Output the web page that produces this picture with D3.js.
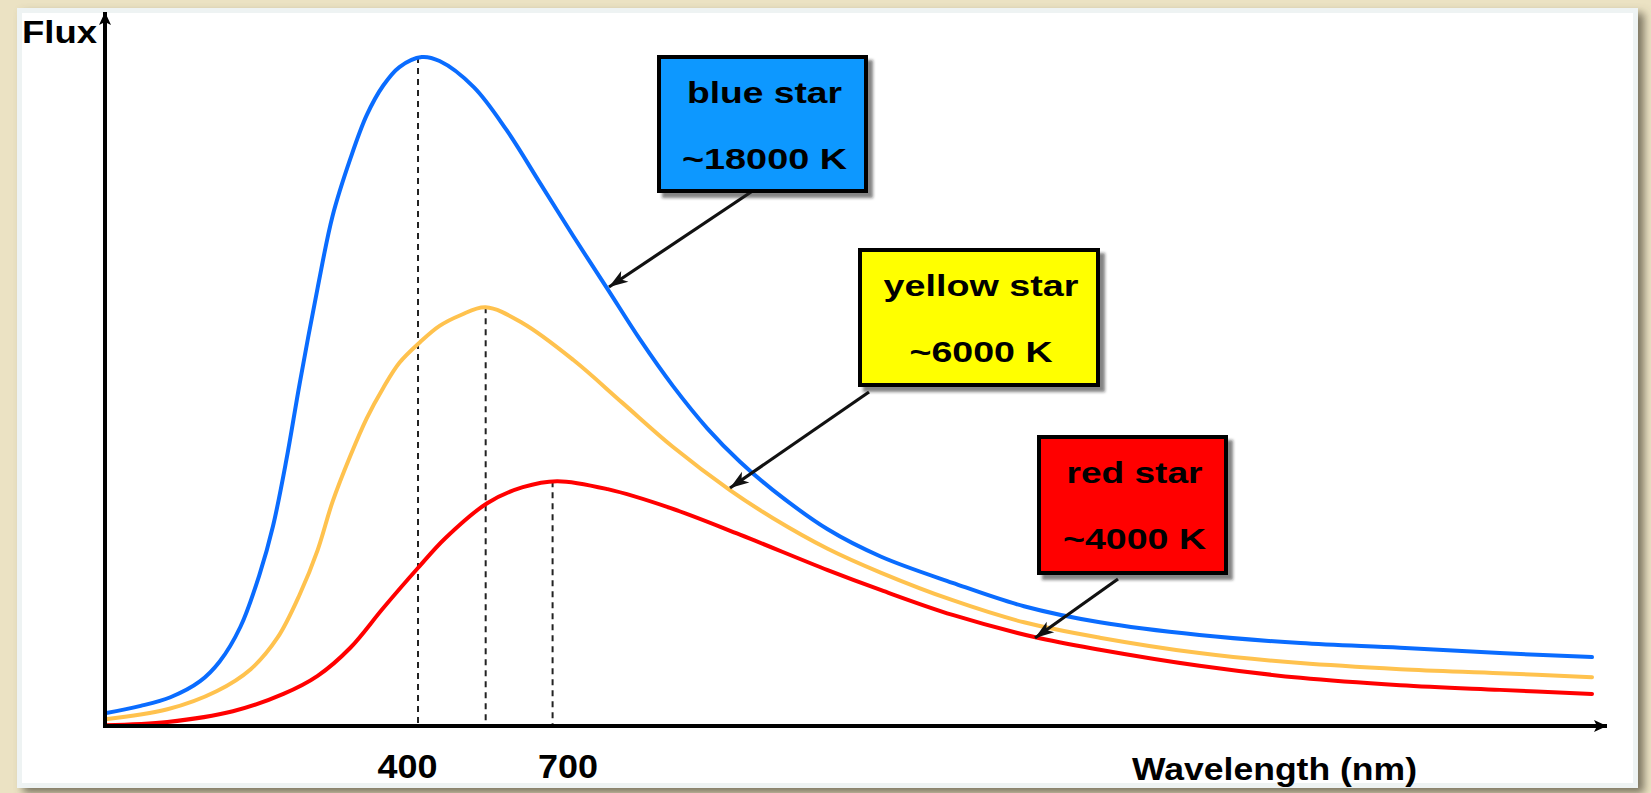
<!DOCTYPE html>
<html><head><meta charset="utf-8">
<script src="https://cdn.jsdelivr.net/npm/d3@7"></script>
<style>html,body{margin:0;padding:0;background:#ebe2c3;overflow:hidden}</style>
</head><body><svg id="chart" width="1651" height="793"></svg>
<script>
// ---- data (arbitrary wavelength units 0..100, flux units 0..100) ----
const blueWave = [0,2.4,4.4,6.4,7.7,9.1,10.4,11.3,12.2,13.1,14.3,15.3,16.5,17.6,18.7,19.8,21.3,22.5,24.8,27.0,29.3,31.5,33.8,36.0,38.2,40.5,42.7,44.9,48.6,52.2,57.0,61.8,66.9,73.6,80.4,87.1,93.8,100];
const blueFlux = [1.9,3.0,4.3,6.7,9.6,14.8,22.7,29.9,39.8,51.3,65.5,76.2,84.8,91.3,95.7,98.5,100,99.4,95.5,89.1,81.0,73.2,65.3,57.7,50.8,44.5,39.5,35.3,29.4,25.3,21.4,17.9,15.5,13.6,12.4,11.7,10.9,10.3];
const yellowWave = [0,4.2,7.5,9.8,11.6,13.1,14.3,15.3,16.5,17.6,18.7,19.8,21.2,22.5,23.9,25.6,28.1,31.5,34.8,38.2,42.0,44.9,48.6,52.2,57.0,61.8,66.9,73.6,80.4,87.1,93.8,100];
const yellowFlux = [1.0,2.5,5.2,8.5,13.2,19.7,26.3,33.5,40.4,46.0,50.5,54.3,57.4,59.8,61.4,62.6,60.2,54.7,48.3,41.7,35.3,31.1,26.5,22.9,18.8,15.5,13.2,10.9,9.4,8.5,7.9,7.3];
const redWave = [0,4.2,8.6,12.0,14.3,16.5,18.7,21.0,22.9,25.7,28.1,30.4,33.8,38.0,42.7,48.6,52.2,57.0,62.5,66.9,73.6,80.4,87.1,93.8,100];
const redFlux = [0.1,0.6,2.2,4.8,7.5,11.7,17.6,23.5,28.1,33.3,35.7,36.6,35.4,32.6,28.6,23.3,20.3,16.6,13.3,11.4,9.0,7.2,6.1,5.4,4.8];

const seriesNames = ["blue star", "yellow star", "red star"];
const seriesTemps = ["~18000 K", "~6000 K", "~4000 K"];
const peakWave = [21.05, 25.6, 30.1];
const peakFlux = [100, 62.6, 36.6];
const tickLabels = ["400", "700"];
const tickWave = [20.3, 31.1];

// ---- layout ----
const W = 1651, H = 793;
const svg = d3.select("#chart");
const x = d3.scaleLinear().domain([0, 100]).range([105, 1592]);
const y = d3.scaleLinear().domain([0, 100]).range([726, 57]);

const defs = svg.append("defs");
const panelShadow = defs.append("filter").attr("id","pshadow").attr("x","-5%").attr("y","-5%").attr("width","115%").attr("height","115%");
panelShadow.append("feDropShadow").attr("dx",6).attr("dy",5).attr("stdDeviation",4).attr("flood-color","#5e5846").attr("flood-opacity",0.8);
const boxShadow = defs.append("filter").attr("id","bshadow").attr("x","-10%").attr("y","-10%").attr("width","130%").attr("height","130%");
boxShadow.append("feDropShadow").attr("dx",5).attr("dy",5).attr("stdDeviation",1.6).attr("flood-color","#222").attr("flood-opacity",0.55);
defs.append("marker").attr("id","arr").attr("viewBox","-20 -8 22 16").attr("refX",0).attr("refY",0)
  .attr("markerWidth",22).attr("markerHeight",16).attr("markerUnits","userSpaceOnUse").attr("orient","auto")
  .append("path").attr("d","M0,0 L-19,-6.5 L-14,0 L-19,6.5 Z").attr("fill","#111");
defs.append("marker").attr("id","axarr").attr("viewBox","-14 -7 16 14").attr("refX",0).attr("refY",0)
  .attr("markerWidth",16).attr("markerHeight",14).attr("markerUnits","userSpaceOnUse").attr("orient","auto")
  .append("path").attr("d","M0,0 L-13,-6 L-10,0 L-13,6 Z").attr("fill","#000");

// background
svg.append("rect").attr("width",W).attr("height",H).attr("fill","#ebe2c3");
svg.append("rect").attr("x",17).attr("y",8).attr("width",1621).attr("height",780).attr("fill","#eef3f3").attr("filter","url(#pshadow)");
svg.append("rect").attr("x",22).attr("y",13).attr("width",1611).attr("height",770).attr("fill","#ffffff");

const font = "'Liberation Sans', Arial, sans-serif";

// dashed peak lines
svg.append("g").selectAll("line").data(peakWave).join("line")
  .attr("x1", d => x(d)).attr("x2", d => x(d))
  .attr("y1", (d,i) => y(peakFlux[i])).attr("y2", y(0))
  .attr("stroke","#222").attr("stroke-width",2).attr("stroke-dasharray","6,5");

// curves
const line = d3.line().x(d => x(d[0])).y(d => y(d[1])).curve(d3.curveCatmullRom.alpha(0.5));
const series = [
  {wave: blueWave, flux: blueFlux, color: "#0a6cff"},
  {wave: yellowWave, flux: yellowFlux, color: "#ffc24e"},
  {wave: redWave, flux: redFlux, color: "#ff0000"}
];
svg.append("g").selectAll("path").data(series.slice().reverse()).join("path")
  .attr("d", s => line(s.wave.map((w,i) => [w, s.flux[i]])))
  .attr("fill","none").attr("stroke", s => s.color).attr("stroke-width",4).attr("stroke-linecap","round");

// axes
svg.append("line").attr("x1",105).attr("y1",y(0)).attr("x2",105).attr("y2",12)
  .attr("stroke","#000").attr("stroke-width",4).attr("marker-end","url(#axarr)");
svg.append("line").attr("x1",103).attr("y1",y(0)).attr("x2",1607).attr("y2",y(0))
  .attr("stroke","#000").attr("stroke-width",4).attr("marker-end","url(#axarr)");

const xAxis = d3.axisBottom(x).tickValues(tickWave).tickSize(0).tickPadding(0)
  .tickFormat((d,i) => tickLabels[i]);
const gx = svg.append("g").attr("transform",`translate(0,${y(0)})`).call(xAxis);
gx.select(".domain").remove();
gx.selectAll("text").attr("font-family",font).attr("font-weight","bold").attr("font-size",33)
  .attr("fill","#000").attr("dy",0).attr("y",52).attr("textLength",60).attr("lengthAdjust","spacingAndGlyphs");

svg.append("text").attr("x",22).attr("y",43).text("Flux")
  .attr("font-family",font).attr("font-weight","bold").attr("font-size",31).attr("fill","#000")
  .attr("textLength",75).attr("lengthAdjust","spacingAndGlyphs");
svg.append("text").attr("x",1132).attr("y",780).text("Wavelength (nm)")
  .attr("font-family",font).attr("font-weight","bold").attr("font-size",31).attr("fill","#000")
  .attr("textLength",285).attr("lengthAdjust","spacingAndGlyphs");

// annotation boxes
const boxes = [
  {l:657, t:55, r:868, b:193, fill:"#0a98ff", w1:155, w2:165, from:[757,188], to:[609,287]},
  {l:858, t:248, r:1100, b:387, fill:"#ffff00", w1:195, w2:143, from:[869,392], to:[730,488]},
  {l:1037, t:435, r:1228, b:575, fill:"#ff0000", w1:136, w2:143, from:[1118,579], to:[1035,638]}
];
boxes.forEach((bx, i) => {
  svg.append("line").attr("x1",bx.from[0]).attr("y1",bx.from[1]).attr("x2",bx.to[0]).attr("y2",bx.to[1])
    .attr("stroke","#111").attr("stroke-width",3.2).attr("marker-end","url(#arr)");
  svg.append("rect").attr("x",bx.l+2).attr("y",bx.t+2).attr("width",bx.r-bx.l-4).attr("height",bx.b-bx.t-4)
    .attr("fill",bx.fill).attr("stroke","#000").attr("stroke-width",4).attr("filter","url(#bshadow)");
  const cx = (bx.l + bx.r) / 2 + 2;
  svg.append("text").attr("x",cx).attr("y",bx.t+48).attr("text-anchor","middle").text(seriesNames[i])
    .attr("font-family",font).attr("font-weight","bold").attr("font-size",29).attr("fill","#000")
    .attr("textLength",bx.w1).attr("lengthAdjust","spacingAndGlyphs");
  svg.append("text").attr("x",cx).attr("y",bx.t+114).attr("text-anchor","middle").text(seriesTemps[i])
    .attr("font-family",font).attr("font-weight","bold").attr("font-size",29).attr("fill","#000")
    .attr("textLength",bx.w2).attr("lengthAdjust","spacingAndGlyphs");
});
</script></body></html>
